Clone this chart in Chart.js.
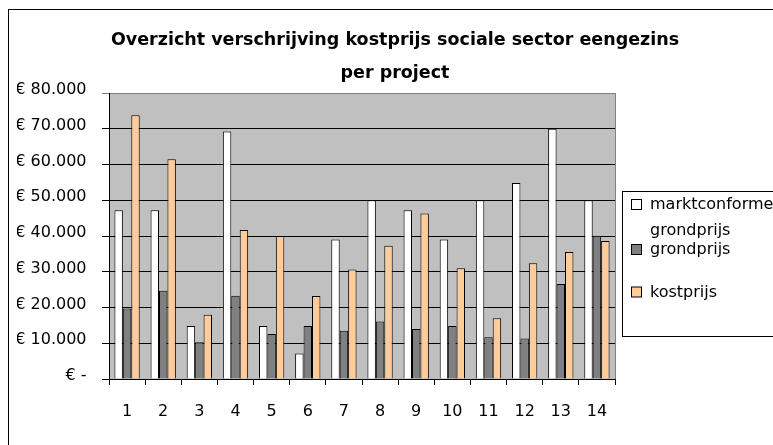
<!DOCTYPE html>
<html>
<head>
<meta charset="utf-8">
<script src="https://cdn.jsdelivr.net/npm/chart.js@4/dist/chart.umd.min.js"></script>
<style>
    body { margin: 0; background: #fff; }
    #wrapper { width: 773px; height: 445px; }
</style>
</head>
<body>
<div id="wrapper"><canvas id="projects" width="773" height="445"></canvas></div>
<script>
const projects = ["1", "2", "3", "4", "5", "6", "7", "8", "9", "10", "11", "12", "13", "14"];
const seriesNames = ["marktconforme grondprijs", "grondprijs", "kostprijs"];
const marktconform = [47200, 47200, 14800, 69200, 14800, 7100, 39000, 50000, 47200, 39000, 50000, 54800, 70000, 50000];
const grondprijs = [19700, 24700, 10300, 23300, 12600, 14800, 13500, 16100, 14000, 14800, 11700, 11300, 26600, 40100];
const kostprijs = [73800, 61500, 18000, 41700, 40000, 23200, 30600, 37300, 46300, 31000, 17000, 32400, 35500, 38600];
const yTicks = [0, 10000, 20000, 30000, 40000, 50000, 60000, 70000, 80000];

const seriesColors = ["#ffffff", "#808080", "#ffcc99"];

function euro(v) {
    if (v == 0)
        return "€ -";
    return "€ " + String(v).replace(/\B(?=(\d{3})+(?!\d))/g, ".");
}

// plot background, outer frame, legend box
const excelLook = {
    id: "excelLook",
    beforeDraw(chart) {
        const ctx = chart.ctx;
        const a = chart.chartArea;
        ctx.save();
        ctx.fillStyle = "#c0c0c0";
        ctx.fillRect(a.left, a.top, a.right - a.left, a.bottom - a.top);
        ctx.strokeStyle = "#000";
        ctx.lineWidth = 1;
        ctx.strokeRect(8.5, 9.5, 900, 600);
        ctx.restore();
    },
    afterDraw(chart) {
        const ctx = chart.ctx;
        const a = chart.chartArea;
        ctx.save();
        ctx.strokeStyle = "#808080";
        ctx.lineWidth = 1;
        ctx.beginPath();
        ctx.moveTo(Math.round(a.right) + 0.5, a.top);
        ctx.lineTo(Math.round(a.right) + 0.5, a.bottom);
        ctx.stroke();

        // legend
        ctx.fillStyle = "#fff";
        ctx.fillRect(622.5, 191.5, 200, 145);
        ctx.strokeStyle = "#000";
        ctx.strokeRect(622.5, 191.5, 200, 145);
        const itemY = [205, 250, 292.5];
        ctx.font = "16px 'DejaVu Sans'";
        ctx.textBaseline = "middle";
        chart.data.datasets.forEach((ds, i) => {
            ctx.fillStyle = ds.backgroundColor;
            ctx.fillRect(631.5, itemY[i] - 5.5, 10, 10);
            ctx.strokeStyle = "#000";
            ctx.strokeRect(631.5, itemY[i] - 5.5, 10, 10);
            ctx.fillStyle = "#000";
            const lines = ds.label.split(" ");
            lines.forEach((l, j) => ctx.fillText(l, 650, itemY[i] + j * 26));
        });
        ctx.restore();
    }
};

const data = {
    labels: projects,
    datasets: [marktconform, grondprijs, kostprijs].map((values, i) => ({
        label: seriesNames[i],
        data: values,
        backgroundColor: seriesColors[i],
        borderColor: "#000",
        borderWidth: 1,
        categoryPercentage: 0.7,
        barPercentage: 1.0
    }))
};

const config = {
    type: "bar",
    data: data,
    options: {
        responsive: false,
        animation: false,
        layout: { padding: { left: 17, top: 9, right: 0, bottom: 0 } },
        scales: {
            x: {
                afterFit: (s) => { s.height = 66; },
                grid: { drawOnChartArea: false, drawTicks: true, tickLength: 6, color: "#000", offset: true },
                border: { display: true, color: "#000" },
                ticks: { color: "#000", padding: 17, font: { family: "DejaVu Sans", size: 16 } }
            },
            y: {
                min: 0,
                max: 80000,
                afterFit: (s) => { s.width = 92; },
                afterBuildTicks: (s) => { s.ticks = yTicks.map(v => ({ value: v })); },
                grid: {
                    tickLength: 7,
                    color: (c) => (c.tick && c.tick.value == 80000) ? "#808080" : "#000"
                },
                border: { display: true, color: "#000" },
                ticks: {
                    color: "#000",
                    padding: 15.5,
                    labelOffset: -3,
                    font: { family: "DejaVu Sans", size: 16 },
                    callback: (v) => euro(v)
                }
            },
            // empty axis on the right, only to keep room for the legend
            side: {
                position: "right",
                afterFit: (s) => { s.width = 158; },
                grid: { display: false },
                border: { display: false },
                ticks: { display: false }
            }
        },
        plugins: {
            legend: { display: false },
            tooltip: { enabled: false },
            title: {
                display: true,
                text: ["Overzicht verschrijving kostprijs sociale sector eengezins", "per project"],
                color: "#000",
                font: { family: "DejaVu Sans", size: 17.5, weight: "bold", lineHeight: "33px" },
                padding: { top: 14.5, bottom: 3.5 }
            }
        }
    },
    plugins: [excelLook]
};

projectChart = new Chart(document.getElementById("projects"), config);
</script>
</body>
</html>
